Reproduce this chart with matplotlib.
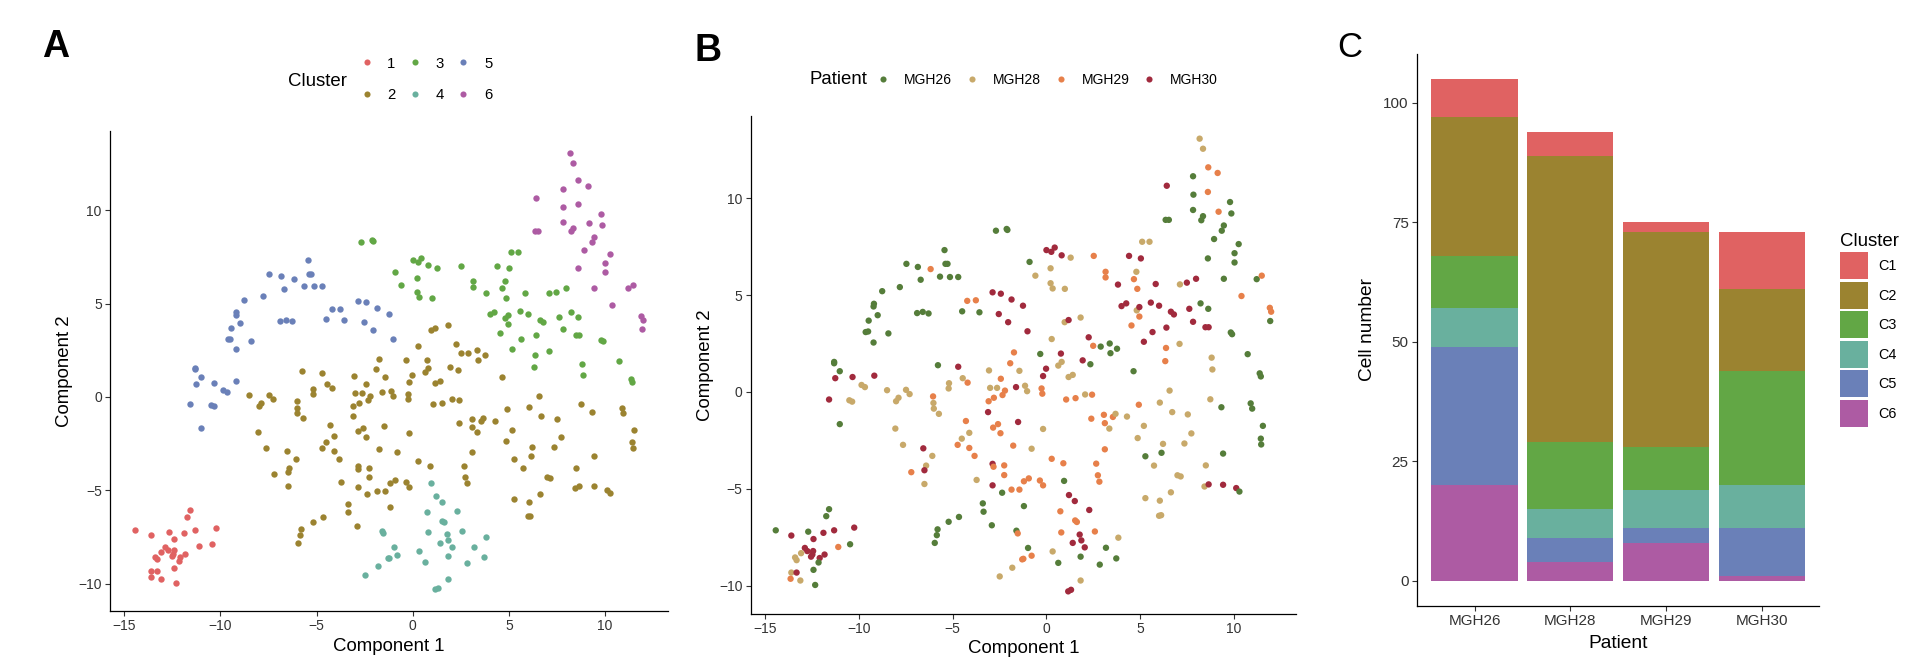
import numpy as np
import matplotlib
matplotlib.use("Agg")
import matplotlib.pyplot as plt
from matplotlib.lines import Line2D
from matplotlib.patches import Patch

plt.rcParams["font.family"] = ["Liberation Sans", "DejaVu Sans"]

# t-SNE cells, per cluster: (component 1, component 2, patient MGHxx)
C1_CELLS = [
    (-14.42, -7.14, 26), (-13.59, -7.41, 30), (-12.69, -7.21, 26), (-12.41, -7.59, 30),
    (-11.88, -7.27, 30), (-11.31, -7.14, 30), (-10.24, -7.00, 30), (-11.58, -6.05, 26),
    (-11.73, -6.41, 26), (-10.46, -7.86, 26), (-11.09, -8.00, 29), (-12.87, -8.05, 30),
    (-12.74, -8.21, 30), (-13.07, -8.32, 28), (-13.39, -8.54, 28), (-13.31, -8.68, 28),
    (-12.43, -8.21, 30), (-12.47, -8.39, 30), (-12.54, -8.50, 30), (-11.82, -8.39, 30),
    (-12.08, -8.57, 30), (-12.14, -8.80, 26), (-12.41, -9.18, 26), (-13.59, -9.32, 28),
    (-13.31, -9.32, 30), (-13.63, -9.64, 29), (-13.11, -9.73, 28), (-12.32, -9.96, 26),
]
C2_CELLS = [
    (0.97, 3.60, 28), (1.18, 3.71, 30), (1.82, 3.84, 28), (0.28, 2.73, 28), (2.25, 2.82, 30),
    (2.49, 2.38, 29), (2.89, 2.34, 26), (3.37, 2.50, 26), (3.76, 2.23, 26), (3.41, 2.00, 26),
    (-0.33, 1.96, 26), (0.77, 1.98, 30), (0.81, 1.55, 28), (0.63, 1.36, 28), (-1.73, 2.04, 29),
    (-1.93, 1.48, 29), (-1.44, 1.09, 28), (1.93, 1.63, 30), (2.34, 1.43, 26), (4.64, 1.07, 26),
    (1.18, 0.77, 28), (1.40, 0.88, 28), (-0.18, 0.82, 30), (-0.02, 1.20, 30), (-3.06, 1.11, 28),
    (-5.78, 1.38, 26), (-4.70, 1.30, 30), (-4.46, 0.71, 28), (-4.20, 0.48, 29), (-5.19, 0.45, 28),
    (-5.21, 0.18, 28), (-3.00, 0.21, 28), (-2.63, 0.21, 28), (-2.43, 0.68, 29), (-2.21, 0.07, 29),
    (-1.62, 0.25, 30), (-1.14, 0.32, 28), (-1.03, 0.04, 28), (-0.26, 0.18, 29), (-0.22, -0.09, 29),
    (-8.49, 0.09, 28), (-7.48, 0.11, 28), (-7.29, -0.11, 28), (-8.01, -0.48, 28), (-7.88, -0.30, 28),
    (-6.04, -0.23, 29), (-6.02, -0.57, 28), (-6.00, -0.86, 28), (-5.73, -1.13, 28), (-2.80, -0.30, 29),
    (-3.08, -0.48, 29), (-2.34, -0.16, 29), (-3.11, -1.04, 30), (1.05, -0.39, 29), (1.55, -0.32, 29),
    (2.06, -0.13, 28), (2.43, -0.14, 29), (2.39, -1.38, 29), (3.06, -1.18, 29), (3.11, -1.61, 29),
    (3.35, -1.89, 28), (3.54, -1.29, 29), (3.68, -1.13, 28), (4.29, -1.27, 28), (4.92, -0.66, 29),
    (6.04, -0.55, 28), (6.56, 0.07, 28), (6.70, -1.04, 28), (7.53, -1.16, 28), (8.73, -0.38, 28),
    (9.32, -0.79, 26), (10.88, -0.59, 26), (10.96, -0.86, 26), (11.53, -1.75, 26), (11.42, -2.41, 26),
    (11.44, -2.71, 26), (5.19, -1.75, 28), (4.86, -2.38, 28), (6.21, -2.68, 28), (6.13, -3.14, 26),
    (7.35, -2.66, 28), (7.72, -2.14, 28), (5.27, -3.32, 26), (5.73, -3.80, 28), (9.41, -3.18, 26),
    (8.49, -3.79, 28), (6.98, -4.30, 28), (7.15, -4.36, 28), (6.63, -5.18, 28), (8.42, -4.88, 28),
    (8.64, -4.77, 30), (9.41, -4.79, 30), (10.11, -4.96, 30), (10.28, -5.14, 26), (5.27, -5.48, 28),
    (6.04, -5.61, 28), (6.00, -6.39, 28), (6.11, -6.36, 28), (-1.51, -1.55, 30), (-0.18, -1.91, 28),
    (-2.58, -1.66, 29), (-2.84, -1.84, 29), (-2.45, -2.13, 29), (-4.29, -1.50, 29), (-4.11, -2.11, 28),
    (-4.51, -2.41, 28), (-4.73, -2.73, 29), (-4.11, -2.89, 29), (-3.83, -3.30, 29), (-8.05, -1.89, 28),
    (-7.64, -2.73, 28), (-6.56, -2.91, 30), (-6.08, -3.30, 28), (-6.41, -3.80, 28), (-6.50, -4.04, 30),
    (-7.20, -4.14, 29), (-6.50, -4.75, 28), (-3.72, -4.54, 28), (-1.77, -2.77, 29), (-0.79, -2.93, 28),
    (0.28, -3.45, 29), (0.90, -3.68, 29), (3.11, -2.96, 29), (2.65, -3.70, 29), (2.74, -4.30, 29),
    (2.82, -4.63, 29), (-2.87, -3.71, 30), (-2.82, -3.86, 29), (-2.25, -3.79, 29), (-2.25, -4.29, 29),
    (-2.87, -4.82, 30), (-2.36, -5.20, 26), (-1.86, -5.04, 29), (-1.44, -5.04, 29), (-1.20, -4.61, 29),
    (-0.94, -4.46, 29), (-0.35, -4.57, 29), (-0.18, -4.82, 29), (-3.39, -5.75, 26), (-3.35, -6.18, 26),
    (-1.20, -5.89, 26), (-2.91, -6.88, 26), (-4.66, -6.45, 26), (-5.21, -6.70, 26), (-5.80, -7.09, 26),
    (-5.84, -7.39, 26), (-5.95, -7.79, 26),
]
C3_CELLS = [
    (-2.69, 8.32, 26), (-2.12, 8.41, 26), (-2.08, 8.36, 26), (0.00, 7.32, 30), (0.26, 7.23, 30),
    (0.44, 7.45, 30), (0.81, 7.05, 30), (1.29, 6.93, 28), (-0.90, 6.71, 26), (-0.59, 6.00, 28),
    (0.22, 6.38, 28), (0.22, 5.61, 28), (0.33, 5.34, 28), (0.98, 5.32, 28), (2.52, 7.02, 29),
    (3.15, 6.20, 29), (3.15, 5.91, 29), (3.81, 5.54, 30), (4.40, 7.02, 30), (5.03, 6.89, 30),
    (5.10, 7.75, 28), (5.49, 7.75, 28), (4.79, 6.20, 28), (4.66, 5.82, 29), (4.84, 5.32, 29),
    (5.82, 5.57, 30), (4.00, 4.43, 30), (4.25, 4.57, 30), (4.81, 4.21, 28), (4.95, 4.38, 30),
    (4.95, 3.89, 29), (5.56, 4.61, 30), (6.00, 4.45, 30), (6.63, 4.14, 30), (6.79, 4.00, 30),
    (7.11, 5.55, 28), (7.48, 5.64, 30), (7.97, 5.84, 30), (8.21, 4.57, 26), (7.61, 4.29, 30),
    (8.62, 4.29, 26), (7.81, 3.62, 30), (4.53, 3.43, 29), (5.65, 3.09, 30), (6.39, 3.32, 30),
    (5.19, 2.59, 30), (6.37, 2.27, 29), (6.33, 1.59, 29), (7.09, 2.48, 28), (8.47, 3.34, 30),
    (8.64, 3.34, 30), (9.82, 3.07, 26), (9.89, 2.98, 26), (8.80, 1.77, 28), (8.84, 1.16, 28),
    (10.72, 1.95, 26), (11.36, 0.96, 26), (11.42, 0.80, 26),
]
C4_CELLS = [
    (0.94, -4.59, 26), (1.20, -5.32, 30), (1.51, -5.63, 30), (2.28, -6.09, 30), (0.74, -6.16, 29),
    (1.53, -6.63, 29), (1.62, -6.71, 29), (-1.60, -7.16, 26), (-1.53, -7.30, 29), (0.79, -7.25, 29),
    (1.77, -7.36, 30), (2.58, -7.20, 29), (3.83, -7.52, 28), (1.86, -7.66, 30), (1.40, -7.79, 30),
    (2.04, -8.02, 30), (-0.98, -8.05, 26), (-0.79, -8.45, 29), (-1.29, -8.64, 29), (-1.23, -8.61, 29),
    (0.33, -8.23, 28), (0.63, -8.82, 26), (1.82, -8.50, 26), (3.17, -8.04, 26), (3.72, -8.59, 26),
    (2.84, -8.91, 26), (-1.82, -9.07, 28), (-2.49, -9.52, 28), (1.82, -9.73, 28), (1.31, -10.21, 30),
    (1.16, -10.29, 30),
]
C5_CELLS = [
    (-7.46, 6.61, 26), (-6.85, 6.45, 26), (-6.17, 6.34, 29), (-5.43, 7.32, 26), (-5.38, 6.61, 26),
    (-5.27, 6.61, 26), (-6.70, 5.79, 26), (-5.67, 5.95, 26), (-5.14, 5.93, 26), (-4.70, 5.93, 26),
    (-7.81, 5.41, 26), (-8.75, 5.20, 26), (-9.19, 4.55, 26), (-9.21, 4.41, 26), (-8.99, 3.96, 26),
    (-9.47, 3.68, 26), (-6.89, 4.07, 26), (-6.59, 4.13, 26), (-6.28, 4.05, 26), (-4.49, 4.16, 26),
    (-4.22, 4.70, 29), (-3.76, 4.73, 29), (-3.57, 4.11, 26), (-2.87, 5.14, 30), (-2.43, 5.07, 30),
    (-1.86, 4.77, 30), (-1.25, 4.45, 30), (-2.54, 4.02, 30), (-2.04, 3.60, 30), (-9.63, 3.09, 26),
    (-9.50, 3.12, 26), (-8.42, 3.02, 26), (-9.21, 2.55, 26), (-1.01, 3.13, 30), (-11.31, 1.48, 26),
    (-11.31, 1.55, 26), (-11.01, 1.07, 26), (-11.25, 0.71, 30), (-10.33, 0.77, 30), (-9.17, 0.84, 30),
    (-9.85, 0.36, 28), (-9.67, 0.25, 28), (-11.58, -0.39, 30), (-10.50, -0.43, 28), (-10.35, -0.50, 28),
    (-11.01, -1.66, 26),
]
C6_CELLS = [
    (8.16, 13.07, 28), (8.34, 12.55, 28), (8.62, 11.59, 29), (7.81, 11.13, 26), (9.12, 11.30, 29),
    (6.41, 10.64, 30), (7.83, 10.18, 26), (8.60, 10.32, 29), (9.78, 9.80, 26), (7.81, 9.39, 26),
    (9.17, 9.30, 29), (9.85, 9.21, 26), (8.34, 9.07, 26), (8.25, 8.86, 26), (6.35, 8.88, 26),
    (6.52, 8.88, 26), (9.45, 8.59, 26), (9.34, 8.32, 26), (8.93, 7.89, 26), (10.24, 7.63, 26),
    (10.02, 7.16, 26), (10.02, 6.68, 26), (8.60, 6.89, 26), (9.45, 5.84, 26), (11.20, 5.82, 26),
    (11.47, 6.00, 29), (10.39, 4.95, 29), (11.90, 4.34, 29), (11.97, 4.14, 29), (11.92, 3.66, 26),
]

# panel C: cells per cluster for MGH26, MGH28, MGH29, MGH30
PATIENTS = ["MGH26", "MGH28", "MGH29", "MGH30"]
C1_COUNT = [8, 5, 2, 12]
C2_COUNT = [29, 60, 45, 17]
C3_COUNT = [11, 14, 9, 24]
C4_COUNT = [8, 6, 8, 9]
C5_COUNT = [29, 5, 3, 10]
C6_COUNT = [20, 4, 8, 1]

CLUSTER_COLORS = ["#E06262", "#9B8330", "#62A745", "#69B09E", "#6A80B8", "#AD5BA3"]
PATIENT_COLORS = {26: "#557D3A", 28: "#C8A96A", 29: "#E7804A", 30: "#A12A3D"}

cells = [C1_CELLS, C2_CELLS, C3_CELLS, C4_CELLS, C5_CELLS, C6_CELLS]
counts = [C1_COUNT, C2_COUNT, C3_COUNT, C4_COUNT, C5_COUNT, C6_COUNT]

TICK_C = "#333333"


def style_axes(ax, fs):
    for s in ("top", "right"):
        ax.spines[s].set_visible(False)
    for s in ("left", "bottom"):
        ax.spines[s].set_linewidth(0.9)
        ax.spines[s].set_color("black")
    ax.tick_params(length=3.5, width=0.8, color=TICK_C, labelcolor=TICK_C,
                   labelsize=fs, pad=2.5)


fig = plt.figure(figsize=(19.08, 6.6), dpi=100)

# ---- A: coloured by cluster
axA = fig.add_axes([0.0577, 0.0742, 0.2925, 0.7273])
for i, pts in enumerate(cells):
    arr = np.array(pts, dtype=float)
    axA.scatter(arr[:, 0], arr[:, 1], s=21, color=CLUSTER_COLORS[i], lw=0)
# ---- B: same cells coloured by patient
axB = fig.add_axes([0.3936, 0.0697, 0.2856, 0.7545])
allc = np.array([p for pts in cells for p in pts], dtype=float)
axB.scatter(allc[:, 0], allc[:, 1], s=21, lw=0,
            color=[PATIENT_COLORS[int(p)] for p in allc[:, 2]])

for ax in (axA, axB):
    ax.margins(0.05)
    ax.set_xticks([-15, -10, -5, 0, 5, 10])
    ax.set_yticks([-10, -5, 0, 5, 10])
    ax.set_xticklabels(["\u221215", "\u221210", "\u22125", "0", "5", "10"])
    ax.set_yticklabels(["\u221210", "\u22125", "0", "5", "10"])
    style_axes(ax, 10)
    ax.set_xlabel("Component 1", fontsize=13.4, labelpad=3)
    ax.set_ylabel("Component 2", fontsize=13.4, labelpad=4)

# legends A / B (title to the left, like ggplot top legend)
fig.text(0.151, 0.877, "Cluster", fontsize=13.4, va="center", ha="left")
hA = [Line2D([], [], ls="", marker="o", ms=4.4, mew=0, color=c) for c in CLUSTER_COLORS]
fig.legend(hA, ["1", "2", "3", "4", "5", "6"], ncol=3, loc="center left",
           bbox_to_anchor=(0.1843, 0.880), frameon=False, fontsize=10.7,
           borderpad=0, handlelength=1.0, handletextpad=0.9, columnspacing=0.8,
           labelspacing=1.15)
fig.text(0.4245, 0.879, "Patient", fontsize=13.4, va="center", ha="left")
hB = [Line2D([], [], ls="", marker="o", ms=4.4, mew=0, color=PATIENT_COLORS[k])
      for k in (26, 28, 29, 30)]
fig.legend(hB, PATIENTS, ncol=4, loc="center left", bbox_to_anchor=(0.4553, 0.879),
           frameon=False, fontsize=10, borderpad=0, handlelength=1.0,
           handletextpad=1.01, columnspacing=0.94)

# ---- C: stacked bars
axC = fig.add_axes([0.7427, 0.0818, 0.2107, 0.8364])
xpos = np.arange(1, len(PATIENTS) + 1)
bottom = np.zeros(len(PATIENTS))
for i in range(5, -1, -1):  # C6 at the bottom, C1 on top
    axC.bar(xpos, counts[i], width=0.9, bottom=bottom, color=CLUSTER_COLORS[i], lw=0)
    bottom += np.array(counts[i])
axC.set_xlim(0.4, 4.6)
axC.set_ylim(-0.05 * bottom.max(), 1.05 * bottom.max())
axC.set_yticks([0, 25, 50, 75, 100])
axC.set_xticks(xpos)
axC.set_xticklabels(PATIENTS)
style_axes(axC, 11)
axC.set_xlabel("Patient", fontsize=13.8, labelpad=5)
axC.set_ylabel("Cell number", fontsize=13.8, labelpad=5)

hC = [Patch(facecolor=c, edgecolor="none") for c in CLUSTER_COLORS]
fig.legend(hC, ["C1", "C2", "C3", "C4", "C5", "C6"], title="Cluster",
           title_fontsize=13.4, fontsize=10.4, loc="upper left",
           bbox_to_anchor=(0.9605, 0.658), frameon=False, borderpad=0,
           handlelength=1.96, handleheight=2.5, labelspacing=0.17,
           handletextpad=0.69, alignment="left")

# panel letters
fig.text(0.022, 0.9295, "A", fontsize=27, fontweight="bold", va="center")
fig.text(0.364, 0.923, "B", fontsize=27, fontweight="bold", va="center")
fig.text(0.701, 0.9276, "C", fontsize=25, va="center")

fig.savefig("out.png", dpi=100)
